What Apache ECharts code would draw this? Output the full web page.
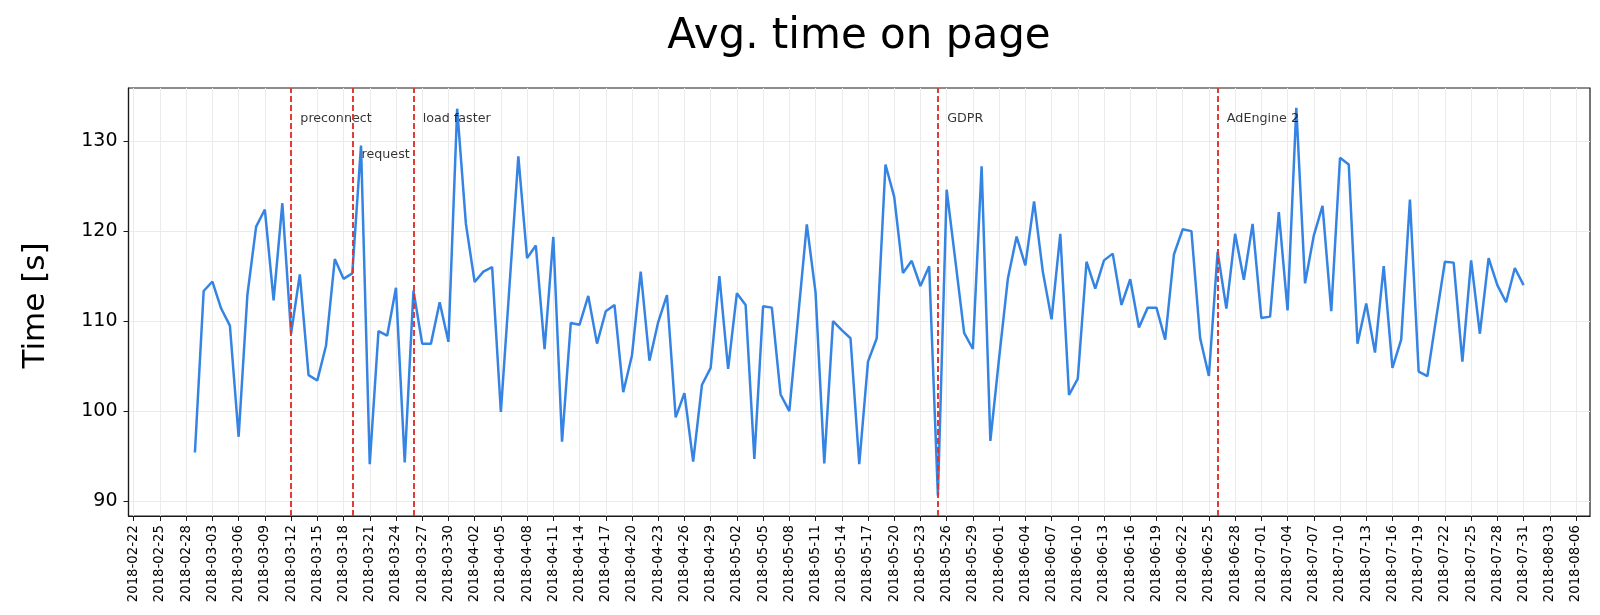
<!DOCTYPE html>
<html><head><meta charset="utf-8">
<script src="https://cdn.jsdelivr.net/npm/echarts@6/dist/echarts.min.js"></script>
<style>html,body{margin:0;padding:0;background:#fff}#c{width:1600px;height:615px}</style>
</head><body><div id="c"></div>
<script>
// daily series, first day:
const startDate = '2018-03-01';
// Avg. time on page [s], one value per day from 2018-03-01 to 2018-07-31
const valuesMar = [95.4,113.35,114.4,111.4,109.5,97.15,112.9,120.5,122.4,112.3,123.1,108.6,115.2,104.0,103.4,107.3,116.9,114.7,115.3,129.5,94.1,108.9,108.4,113.7,94.3,113.4,107.5,107.5,112.1,107.7,133.6];
const valuesApr = [120.8,114.35,115.5,116.0,99.9,114.1,128.3,117.0,118.4,106.9,119.35,96.6,109.8,109.6,112.8,107.5,111.1,111.8,102.1,106.2,115.5,105.6,109.9,112.9,99.3,102.0,94.4,102.9,104.8,115.0];
const valuesMay = [104.7,113.1,111.8,94.7,111.65,111.5,101.85,100.0,110.4,120.75,113.2,94.2,110.0,109.0,108.1,94.1,105.5,108.1,127.4,123.8,115.35,116.7,113.9,116.1,90.6,124.6,116.7,108.7,106.9,127.2,96.7];
const valuesJun = [105.9,114.7,119.4,116.2,123.3,115.5,110.2,119.7,101.8,103.6,116.6,113.6,116.75,117.5,111.8,114.65,109.3,111.5,111.5,107.95,117.4,120.2,120.0,108.1,103.9,117.7,111.4,119.7,114.6,120.8];
const valuesJul = [110.35,110.5,122.1,111.2,133.7,114.2,119.5,122.8,111.1,128.15,127.4,107.5,111.95,106.5,116.1,104.8,107.95,123.5,104.4,103.9,110.3,116.6,116.5,105.5,116.75,108.6,117.0,114.0,112.1,115.9,114.0];
const values = [].concat(valuesMar, valuesApr, valuesMay, valuesJun, valuesJul);

const tickLabels = ['2018-02-22','2018-02-25','2018-02-28','2018-03-03','2018-03-06','2018-03-09','2018-03-12','2018-03-15','2018-03-18','2018-03-21','2018-03-24','2018-03-27','2018-03-30','2018-04-02','2018-04-05','2018-04-08','2018-04-11','2018-04-14','2018-04-17','2018-04-20','2018-04-23','2018-04-26','2018-04-29','2018-05-02','2018-05-05','2018-05-08','2018-05-11','2018-05-14','2018-05-17','2018-05-20','2018-05-23','2018-05-26','2018-05-29','2018-06-01','2018-06-04','2018-06-07','2018-06-10','2018-06-13','2018-06-16','2018-06-19','2018-06-22','2018-06-25','2018-06-28','2018-07-01','2018-07-04','2018-07-07','2018-07-10','2018-07-13','2018-07-16','2018-07-19','2018-07-22','2018-07-25','2018-07-28','2018-07-31','2018-08-03','2018-08-06'];
const yTicks = [90, 100, 110, 120, 130];
// events: date, label, label height (data units)
const eventDates = ['2018-03-12','2018-03-19','2018-03-26','2018-05-25','2018-06-26'];
const eventNames = ['preconnect','request','load faster','GDPR','AdEngine 2'];
const eventLabelY = [132, 128, 132, 132, 132];

const DAY = 86400000;
function dayNum(s){ const p = s.split('-'); return Date.UTC(+p[0], +p[1]-1, +p[2]) / DAY; }
function fmt(d){ return new Date(Math.round(d) * DAY).toISOString().slice(0, 10); }

const x0 = dayNum(startDate);
const seriesData = values.map((v, i) => [x0 + i, v]);
const xFirst = x0, xLast = x0 + values.length - 1;
const pad = (xLast - xFirst) * 0.05;
const tickVals = tickLabels.map(dayNum);

const FONT = '"DejaVu Sans", sans-serif';
const chart = echarts.init(document.getElementById('c'), null, {renderer: 'canvas'});
chart.setOption({
  animation: false,
  backgroundColor: '#fff',
  grid: {left: 128.5, right: 10, top: 88, bottom: 99, show: true, borderColor: '#1a1a1a', borderWidth: 1.2, containLabel: false},
  graphic: [
    {type: 'text', x: 859, y: 37, style: {text: 'Avg. time on page', font: '42px ' + FONT, fill: '#000', align: 'center', verticalAlign: 'middle', textAlign: 'center', textVerticalAlign: 'middle'}},
    {type: 'text', x: 36, y: 305.5, rotation: Math.PI / 2, style: {text: 'Time [s]', font: '31px ' + FONT, fill: '#000', align: 'center', verticalAlign: 'middle', textAlign: 'center', textVerticalAlign: 'middle'}}
  ],
  xAxis: {
    type: 'value', min: xFirst - pad, max: xLast + pad,
    axisLine: {show: true, onZero: false, lineStyle: {color: '#1a1a1a', width: 1.2}},
    axisTick: {show: true, customValues: tickVals, length: 5, lineStyle: {color: '#1a1a1a', width: 1}},
    axisLabel: {customValues: tickVals, rotate: 90, formatter: v => fmt(v), fontSize: 13.3, color: '#000', fontFamily: FONT, margin: 9},
    splitLine: {show: true, lineStyle: {color: '#ebebeb', width: 1}}
  },
  yAxis: {
    type: 'value', min: 88.35, max: 135.9,
    axisLine: {show: true, onZero: false, lineStyle: {color: '#1a1a1a', width: 1.2}},
    axisTick: {show: true, customValues: yTicks, length: 5, lineStyle: {color: '#1a1a1a', width: 1}},
    axisLabel: {customValues: yTicks, fontSize: 19, color: '#000', fontFamily: FONT, margin: 11},
    splitLine: {show: true, lineStyle: {color: '#ebebeb', width: 1}}
  },
  series: [
    {
      type: 'line', data: seriesData, symbol: 'none', showSymbol: false, z: 2,
      lineStyle: {color: '#3584e4', width: 2.5}
    },
    {
      type: 'scatter', z: 4, symbolSize: 1, itemStyle: {color: 'rgba(0,0,0,0)'},
      data: eventDates.map((d, i) => [dayNum(d) + 1, eventLabelY[i], eventNames[i]]),
      label: {show: true, position: 'right', distance: 0, offset: [0, -4], formatter: p => p.data[2], color: '#000', fontSize: 12.7, fontFamily: FONT},
      markLine: {
        silent: true, symbol: ['none', 'none'], label: {show: false},
        lineStyle: {color: '#e0312b', type: [6, 3], width: 2, opacity: 0.95},
        data: eventDates.map(d => ({xAxis: dayNum(d)}))
      }
    }
  ]
});
</script></body></html>
